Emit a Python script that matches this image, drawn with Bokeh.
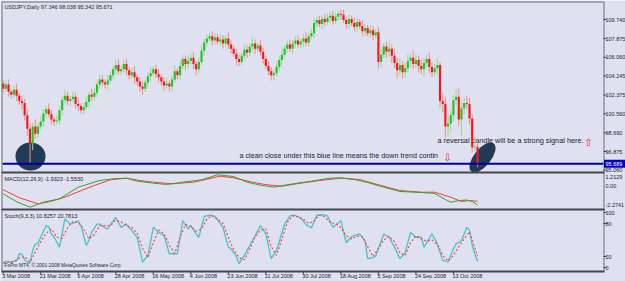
from bokeh.plotting import figure
from bokeh.models import Range1d, ColumnDataSource
from bokeh.core.properties import value
from bokeh.embed import file_html
from bokeh.resources import INLINE

# ---------------- data ----------------
first_open = 103.5
closes = [
    103.0, 103.4, 102.7, 102.4, 102.9, 102.3, 101.8, 101.6, 100.4, 99.1,
    97.6, 99.3, 98.6, 99.3, 99.8, 100.6, 101.0, 100.5, 100.0, 99.8,
    99.9, 100.9, 101.9, 102.3, 101.8, 102.0, 102.2, 101.5, 101.3, 100.9,
    101.2, 101.7, 102.4, 102.2, 102.6, 103.4, 103.9, 103.6, 103.4, 103.8,
    104.3, 104.9, 105.3, 104.7, 104.9, 105.4, 104.8, 104.3, 104.6, 104.1,
    103.7, 103.2, 103.0, 103.6, 104.2, 104.5, 104.9, 104.4, 104.1, 103.7,
    103.3, 103.5, 103.2, 103.9, 104.7, 104.3, 105.2, 105.9, 105.4, 105.7,
    106.0, 105.4, 104.9, 105.6, 106.7, 107.5, 107.9, 108.1, 107.7, 108.0,
    107.6, 107.8, 107.4, 107.9, 107.3, 106.9, 106.4, 105.9, 105.6, 106.2,
    106.8, 106.5, 107.1, 107.4, 106.9, 107.2, 106.6, 105.9, 105.2, 104.7,
    104.3, 104.5, 105.1, 105.8, 106.3, 106.9, 107.3, 106.9, 107.4, 107.7,
    107.3, 107.6, 107.9, 107.5, 108.1, 108.4, 109.4, 109.7, 109.3, 109.8,
    109.5, 109.9, 110.1, 109.6, 110.0, 110.3, 110.2, 109.7, 109.3, 109.8,
    109.4, 109.0, 109.5, 109.1, 108.6, 108.9, 108.4, 108.7, 108.2, 108.5,
    105.6, 106.3, 107.1, 106.6, 106.9, 106.2, 105.5, 104.8, 105.3, 104.6,
    105.0, 105.7, 106.0, 105.4, 105.8, 105.2, 104.9, 105.5, 105.9, 105.1,
    104.6, 105.0, 105.3, 101.8, 101.5, 99.3, 99.6, 100.4, 101.9, 102.2,
    100.0, 101.1, 101.6, 101.5, 100.1, 97.3, 97.346, 95.671,
]
wick_up = [
    0.3, 0.4, 0.5, 0.2, 0.4, 0.6, 0.3, 0.5, 0.4, 0.6,
    0.5, 0.4, 0.7, 0.3, 0.5, 0.4, 0.3, 0.6, 0.4, 0.3,
    0.5, 0.4, 0.3, 0.6, 0.4, 0.3, 0.5, 0.4, 0.6, 0.3,
    0.4, 0.5, 0.3, 0.6, 0.4, 0.3, 0.5, 0.4, 0.3, 0.5,
    0.4, 0.3, 0.5, 0.6, 0.3, 0.4, 0.5, 0.3, 0.4, 0.6,
    0.3, 0.4, 0.5, 0.3, 0.4, 0.6, 0.3, 0.4, 0.5, 0.3,
    0.4, 0.5, 0.3, 0.4, 0.6, 0.3, 0.5, 0.4, 0.3, 0.5,
    0.4, 0.6, 0.3, 0.4, 0.5, 0.3, 0.4, 0.3, 0.5, 0.4,
    0.3, 0.5, 0.4, 0.3, 0.6, 0.4, 0.3, 0.5, 0.4, 0.3,
    0.5, 0.4, 0.3, 0.6, 0.4, 0.3, 0.5, 0.4, 0.3, 0.5,
    0.4, 0.3, 0.5, 0.4, 0.6, 0.3, 0.4, 0.5, 0.3, 0.4,
    0.5, 0.3, 0.4, 0.6, 0.3, 0.4, 0.5, 0.3, 0.4, 0.3,
    0.5, 0.4, 0.3, 0.5, 0.4, 0.3, 0.4, 0.5, 0.3, 0.4,
    0.3, 0.5, 0.4, 0.3, 0.6, 0.4, 0.3, 0.5, 0.4, 0.3,
    0.5, 0.6, 0.4, 0.5, 0.7, 0.4, 0.6, 0.5, 0.7, 0.4,
    0.5, 0.6, 0.4, 0.7, 0.5, 0.4, 0.6, 0.5, 0.4, 0.6,
    0.5, 0.4, 0.6, 0.3, 0.8, 0.7, 0.9, 0.6, 0.5, 0.7,
    0.8, 0.6, 0.5, 0.7, 0.6, 0.4, 1.0, 0.692,
]
wick_dn = [
    0.4, 0.3, 0.5, 0.4, 0.3, 0.5, 0.4, 0.6, 0.5, 0.7,
    1.84, 0.6, 0.5, 0.4, 0.3, 0.5, 0.4, 0.3, 0.5, 0.4,
    0.3, 0.4, 0.5, 0.3, 0.4, 0.5, 0.3, 0.4, 0.5, 0.3,
    0.4, 0.3, 0.5, 0.4, 0.3, 0.5, 0.4, 0.3, 0.4, 0.5,
    0.3, 0.4, 0.5, 0.3, 0.4, 0.3, 0.5, 0.4, 0.3, 0.6,
    0.4, 0.5, 0.6, 0.3, 0.4, 0.5, 0.3, 0.4, 0.5, 0.4,
    0.5, 0.3, 0.4, 0.5, 0.3, 0.4, 0.5, 0.3, 0.6, 0.4,
    0.3, 0.5, 0.6, 0.4, 0.3, 0.5, 0.4, 0.3, 0.5, 0.4,
    0.3, 0.4, 0.5, 0.3, 0.4, 0.5, 0.3, 0.6, 0.4, 0.3,
    0.4, 0.5, 0.3, 0.4, 0.5, 0.3, 0.4, 0.5, 0.3, 0.4,
    0.5, 0.5, 0.3, 0.4, 0.5, 0.3, 0.4, 0.3, 0.5, 0.4,
    0.3, 0.4, 0.5, 0.3, 0.4, 0.3, 0.5, 0.4, 0.3, 0.5,
    0.4, 0.3, 0.5, 0.4, 0.3, 0.4, 0.5, 0.3, 0.4, 0.5,
    0.3, 0.4, 0.5, 0.3, 0.4, 0.5, 0.3, 0.4, 0.5, 0.3,
    0.6, 0.5, 0.4, 0.6, 0.5, 0.7, 0.5, 0.8, 0.5, 0.6,
    0.5, 0.4, 0.6, 0.5, 0.4, 0.6, 0.5, 0.7, 0.4, 0.6,
    0.5, 0.4, 0.6, 0.6, 0.8, 1.1, 1.0, 0.8, 0.6, 0.5,
    0.7, 1.6, 0.6, 0.5, 0.6, 0.5, 0.4, 0.329,
]

macd_main_idx = [0, 5, 10, 15, 21, 28, 36, 41, 46, 50, 56, 61, 67, 74, 80, 86, 91, 96, 101, 108,
                 115, 118, 122, 126, 131, 136, 141, 148, 156, 161, 165, 167, 170, 173, 175, 177]
macd_main = [-0.81, -1.6, -2.14, -1.65, -1.31, -0.15, 0.515, 0.685, 0.745, 0.446, 0.25, 0.117, 0.35,
             0.585, 1.083, 0.914, 0.346, 0.05, -0.15, 0.187, 0.446, 0.585, 0.745, 0.78, 0.615, 0.32,
             -0.08, -0.58, -0.68, -0.78, -1.38, -1.65, -1.48, -1.43, -1.58, -1.9323]
macd_sig_idx = [0, 6, 13, 18, 23, 29, 34, 40, 46, 51, 56, 63, 71, 81, 86, 93, 98, 104, 111, 118,
                126, 133, 141, 148, 156, 161, 167, 171, 174, 177]
macd_sig = [-0.41, -1.2, -1.81, -1.55, -1.15, -0.5, 0.02, 0.585, 0.745, 0.515, 0.346, 0.187, 0.346,
            0.944, 0.784, 0.346, 0.1, -0.052, 0.247, 0.515, 0.745, 0.615, 0.017, -0.48, -0.65, -0.65,
            -1.15, -1.58, -1.48, -1.553]

stoch_k_idx = [0, 1, 3, 5, 6, 7, 8, 9, 10, 11, 12, 13, 14, 16, 17, 18, 19, 21, 22, 23, 25, 27, 28, 29,
               31, 32, 33, 35, 36, 38, 39, 41, 42, 44, 46, 48, 50, 52, 54, 56, 58, 60, 62, 65, 67, 69,
               70, 72, 73, 75, 77, 79, 82, 84, 85, 87, 88, 90, 93, 96, 98, 100, 102, 105, 107, 109,
               111, 113, 115, 117, 119, 121, 123, 126, 128, 130, 131, 133, 135, 136, 138, 139, 142,
               144, 146, 148, 150, 152, 154, 156, 157, 160, 162, 164, 166, 168, 169, 171, 173, 174,
               175, 176, 177]
stoch_k = [7, 11, 10, 12, 25, 24, 14, 9, 8, 31, 43, 44, 55, 76, 74, 61, 55, 37, 62, 88, 79, 82, 85, 76,
           40, 50, 64, 79, 79, 72, 70, 85, 91, 73, 79, 67, 55, 10, 22, 73, 64, 58, 25, 25, 85, 70,
           76, 61, 55, 93, 95, 93, 73, 37, 34, 20, 7, 22, 49, 76, 61, 16, 31, 79, 94, 95,
           90, 78, 72, 95, 96, 94, 73, 85, 45, 56, 58, 61, 49, 16, 18, 21, 61,
           55, 37, 16, 27, 64, 55, 55, 37, 61, 43, 13, 10, 34, 43, 49, 73, 67,
           40, 25, 10.8257]
stoch_d_idx = [0, 2, 4, 6, 8, 10, 12, 14, 16, 18, 20, 22, 24, 26, 28, 30, 32, 34, 36, 38, 40, 42, 44,
               46, 48, 50, 52, 54, 56, 58, 60, 62, 64, 66, 68, 70, 72, 74, 76, 78, 80, 82, 84, 86, 88,
               90, 92, 94, 96, 98, 100, 102, 104, 106, 108, 110, 112, 114, 116, 118, 120, 122, 124,
               126, 128, 130, 132, 134, 136, 138, 140, 142, 144, 146, 148, 150, 152, 154, 156, 158,
               160, 162, 164, 166, 168, 170, 172, 174, 176, 177]
stoch_d = [9, 10, 11, 17, 20, 10, 28, 47, 62, 70, 55, 53, 72, 84, 82, 70, 52, 60, 76, 76, 76, 86, 83,
           76, 73, 62, 35, 18, 45, 68, 62, 40, 26, 55, 78, 75, 66, 70, 88, 94, 88, 80, 55, 32, 18,
           14, 33, 56, 68, 70, 38, 22, 52, 82, 94, 92, 88, 80, 85, 95, 92, 82, 80,
           72, 58, 52, 57, 56, 38, 20, 35, 50, 57, 47, 27, 22, 45, 58, 52, 48,
           50, 42, 22, 12, 22, 38, 52, 65, 35, 20.7813]

date_idx = [0, 14, 28, 42, 56, 70, 84, 98, 112, 126, 140, 154, 168]
date_labels = ["3 Mar 2008", "21 Mar 2008", "9 Apr 2008", "28 Apr 2008", "16 May 2008", "4 Jun 2008",
               "23 Jun 2008", "11 Jul 2008", "30 Jul 2008", "18 Aug 2008", "5 Sep 2008",
               "24 Sep 2008", "13 Oct 2008"]
price_ticks = [109.740, 107.875, 106.060, 104.245, 102.375, 100.560, 98.690, 96.875, 95.060]
macd_ticks = [1.2129, 0.0, -2.2741]
macd_tick_labels = ["1.2129", "0.00", "-2.2741"]
stoch_ticks = [100, 80, 20, 0]
hline_price = 95.689

title_main = "USDJPY,Daily  97.346 98.038 95.342 95.671"
title_macd = "MACD(12,26,9) -1.9323 -1.5530"
title_stoch = "Stoch(9,3,3) 10.8257 20.7813"
copyright_text = "FxPro MT4, \u00a9 2001-2008 MetaQuotes Software Corp."
note_1 = "a clean close under this blue line means the down trend contin"
note_2 = "a reversal candle will be a strong signal here."

n = len(closes)
assert len(wick_up) == n and len(wick_dn) == n
assert len(macd_main_idx) == len(macd_main) and len(macd_sig_idx) == len(macd_sig)
assert len(stoch_k_idx) == len(stoch_k) and len(stoch_d_idx) == len(stoch_d)

opens = [first_open] + closes[:-1]
idx = list(range(n))
tops = [max(o, c) for o, c in zip(opens, closes)]
bots = [min(o, c) for o, c in zip(opens, closes)]
highs = [t + w for t, w in zip(tops, wick_up)]
lows = [b - w for b, w in zip(bots, wick_dn)]
up = [c >= o for o, c in zip(opens, closes)]
body_col = ["#22c422" if u else "#ff1414" for u in up]
wick_col = ["#8fdc8f" if u else "#f38a8a" for u in up]

# ---------------- layout (whole canvas is the plotting frame) ----------------
W, H = 625, 281
FL, FR = 2, 603          # MT4 chart window left / right edge (px)
BG = "#dfe0f0"
FONT = "Liberation Sans"
TXT = "#1c1c2c"
PX_PER_BAR, BAR0_PX = 2.68, 2.7


def rng(v_a, y_a, v_b, y_b):
    """range for the full canvas height such that v_a sits at pixel row y_a and v_b at y_b"""
    s = (v_a - v_b) / (y_b - y_a)
    return Range1d(start=v_b - (H - y_b) * s, end=v_a + y_a * s)


def bar_at(px):
    return (px - BAR0_PX) / PX_PER_BAR


p = figure(width=W, height=H, output_backend="svg", toolbar_location=None,
           x_axis_location=None, y_axis_location=None, min_border=0,
           x_range=Range1d(bar_at(0), bar_at(W)),
           y_range=rng(price_ticks[0], 19, price_ticks[7], 151))
p.extra_y_ranges = {"macd": rng(1.2129, 173, -2.2741, 208),
                    "stoch": rng(100, 212, 0, 267),
                    "px": Range1d(start=H, end=0)}
p.extra_x_ranges = {"pxx": Range1d(start=0, end=W)}
p.grid.visible = False
p.background_fill_color = BG
p.border_fill_color = BG
p.outline_line_color = None

PX = dict(x_range_name="pxx", y_range_name="px")

# highlight ellipses
p.ellipse(x=[30], y=[156], width=30, height=28, width_units="screen", height_units="screen",
          fill_color="#213a56", line_color=None, **PX)
p.ellipse(x=[482], y=[157], width=36, height=17, angle=0.9, width_units="screen",
          height_units="screen", fill_color="#213a56", line_color=None, **PX)

# notes
p.text(x=[239], y=[155], text=[note_1], text_font=value(FONT), text_font_size="7.2px",
       text_baseline="middle", text_color=TXT, **PX)
p.text(x=[437], y=[140], text=[note_2], text_font=value(FONT), text_font_size="7.3px",
       text_baseline="middle", text_color=TXT, **PX)
p.text(x=[447, 588], y=[157, 142], text=["\u21e9", "\u21e7"], text_font=value("DejaVu Sans"),
       text_font_size="10px", text_align="center", text_baseline="middle",
       text_color="#ff2020", **PX)

# candles
src = ColumnDataSource(dict(i=idx, h=highs, l=lows, t=tops, b=bots, bc=body_col, wc=wick_col))
p.segment(x0="i", y0="h", x1="i", y1="l", line_color="wc", line_width=1, source=src)
p.vbar(x="i", top="t", bottom="b", width=0.8, fill_color="bc", line_color=None, source=src)

# blue horizontal line across the price window
p.segment(x0=[bar_at(FL)], x1=[bar_at(FR)], y0=[hline_price], y1=[hline_price],
          line_color="#0000a8", line_width=2)

# MACD
p.line(macd_sig_idx, macd_sig, y_range_name="macd", line_color="#ff3a3a", line_width=1)
p.line(macd_main_idx, macd_main, y_range_name="macd", line_color="#2fa52f", line_width=1)

# Stochastic
p.line(stoch_k_idx, stoch_k, y_range_name="stoch", line_color="#45c3c9", line_width=1.3)
p.line(stoch_d_idx, stoch_d, y_range_name="stoch", line_color="#ff4646", line_width=1.2,
       line_dash="2 2")

# window borders
p.segment(x0=[1.5, 1.5, FR + 0.5], y0=[1.5, 1.5, 1.5], x1=[FR + 0.5, 1.5, FR + 0.5],
          y1=[1.5, 271, 271], line_color="#6c6c7a", line_width=1, **PX)
p.segment(x0=[1, 1, 1], y0=[172, 209, 271], x1=[FR + 1, FR + 1, FR + 1], y1=[172, 209, 271],
          line_color="#46464f", line_width=2, **PX)

# right-hand scales
TICK = dict(line_color="#404050", line_width=1)
p.segment(x0=[FR] * len(price_ticks), x1=[FR + 3] * len(price_ticks), y0=price_ticks,
          y1=price_ticks, x_range_name="pxx", **TICK)
p.segment(x0=[FR] * len(stoch_ticks), x1=[FR + 3] * len(stoch_ticks), y0=stoch_ticks,
          y1=stoch_ticks, x_range_name="pxx", y_range_name="stoch", **TICK)
LBL = dict(text_font=value(FONT), text_font_size="5.5px", text_baseline="middle", text_color=TXT)
p.text(x=[FR + 2] * len(price_ticks), y=price_ticks, text=[f"{v:.3f}" for v in price_ticks],
       x_range_name="pxx", **LBL)
p.text(x=[FR + 2] * 3, y=macd_ticks, text=macd_tick_labels, x_range_name="pxx",
       y_range_name="macd", y_offset=[3.5, 0, -3.5], **LBL)
p.text(x=[FR + 2] * len(stoch_ticks), y=stoch_ticks, text=[str(v) for v in stoch_ticks],
       x_range_name="pxx", y_range_name="stoch", **LBL)
p.rect(x=[614.5], y=[hline_price], width=22, height=8, width_units="screen",
       height_units="screen", x_range_name="pxx", fill_color="#0000c8", line_color=None)
p.text(x=[FR + 2], y=[hline_price], text=[f"{hline_price:.3f}"], x_range_name="pxx",
       text_font=value(FONT), text_font_size="5.5px", text_baseline="middle",
       text_color="#ffffff")

# date scale
p.segment(x0=date_idx, x1=date_idx, y0=[271] * len(date_idx), y1=[274] * len(date_idx),
          y_range_name="px", **TICK)
p.text(x=date_idx, y=[272.5] * len(date_idx), text=date_labels, y_range_name="px",
       x_offset=-1, text_font=value(FONT), text_font_size="5.5px", text_baseline="top",
       text_color=TXT)

# window titles
p.text(x=[4, 4, 4], y=[6, 178, 215], text=[title_main, title_macd, title_stoch],
       text_font=value(FONT), text_font_size="5.5px", text_baseline="middle", text_color=TXT, **PX)
p.text(x=[4], y=[265], text=[copyright_text], text_font=value(FONT), text_font_size="4.9px",
       text_baseline="middle", text_color=TXT, **PX)

open("out.html", "w").write(file_html(p, INLINE))
